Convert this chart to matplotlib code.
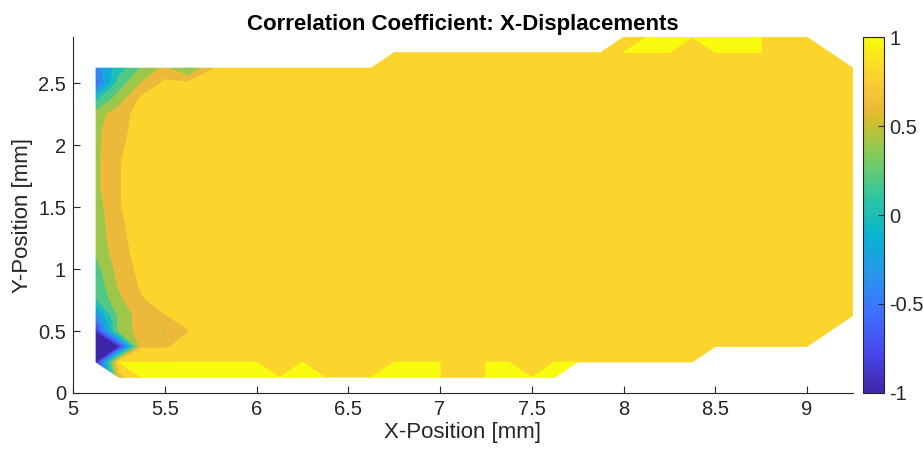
import matplotlib
matplotlib.use("Agg")
import matplotlib.pyplot as plt
import numpy as np
from matplotlib.colors import LinearSegmentedColormap, Normalize
from matplotlib.cm import ScalarMappable
from matplotlib.ticker import FormatStrFormatter

plt.rcParams['font.family'] = ['Liberation Sans', 'DejaVu Sans']

# measurement grid (mm)
x_mm = np.arange(5.125, 9.26, 0.125)   # 34 columns
y_mm = np.arange(0.125, 2.88, 0.125)   # 23 rows

# first / last valid row index for every column
col_bottom = [1] + [0] * 20 + [1] * 6 + [2] * 5 + [3, 4]
col_top = [20] * 13 + [21] * 10 + [22] * 9 + [21, 20]

# correlation values of the left-most columns (row 0 = bottom)
nan = np.nan
edge_cols = [
    [nan, -0.9, -0.95, -0.8, -0.3, 0.18, 0.25, 0.32, 0.42, 0.46, 0.48, 0.5,
     0.55, 0.55, 0.55, 0.55, 0.55, 0.5, 0.15, -0.5, -0.3, nan, nan],
    [0.7, 1.0, -0.82, 0.45, 0.45, 0.55, 0.63, 0.68, 0.72, 0.75, 0.77, 0.79,
     0.79, 0.79, 0.79, 0.77, 0.74, 0.72, 0.5, 0.3, 0.1, nan, nan],
    [1.0, 1.0, 0.78, 0.7, 0.7, 0.78, 0.83, 0.86, 0.88, 0.88, 0.88, 0.88,
     0.88, 0.88, 0.88, 0.88, 0.88, 0.88, 0.85, 0.62, 0.42, nan, nan],
    [1.0, 1.0, 0.78, 0.58, 0.79, 0.88, 0.88, 0.88, 0.9, 0.9, 0.9, 0.9,
     0.9, 0.9, 0.9, 0.9, 0.9, 0.9, 0.88, 0.85, 0.65, nan, nan],
    [1.0, 1.0, 0.87, 0.79, 0.88, 0.9, 0.9, 0.9, 0.9, 0.9, 0.9, 0.9,
     0.9, 0.9, 0.9, 0.9, 0.9, 0.9, 0.9, 0.85, 0.35, nan, nan],
    [1.0, 1.0, 0.9, 0.9, 0.9, 0.9, 0.9, 0.9, 0.9, 0.9, 0.9, 0.9,
     0.9, 0.9, 0.9, 0.9, 0.9, 0.9, 0.9, 0.9, 0.78, nan, nan],
]
interior_r = 0.9

# columns (index) where the coefficient reaches 1 on the outer rows
ones_row0 = [6, 7, 8, 9, 10, 11, 12, 13, 14, 15, 17, 18, 19, 20]
ones_row1 = [6, 7, 9, 13, 14, 15, 17, 18, 20, 21]
ones_row21 = [23, 24, 25, 27, 28, 29]
ones_row22 = [24, 25, 26, 27, 28, 29]

Z = np.full((len(y_mm), len(x_mm)), np.nan)
for i in range(len(x_mm)):
    Z[col_bottom[i]:col_top[i] + 1, i] = interior_r
for i, col in enumerate(edge_cols):
    Z[:, i] = col
for row, cols in [(0, ones_row0), (1, ones_row1), (21, ones_row21), (22, ones_row22)]:
    for i in cols:
        Z[row, i] = 1.0

# parula
parula_pts = [
    (0.0, (0.2422, 0.1504, 0.6603)),
    (1 / 9, (0.2803, 0.2782, 0.9221)),
    (2 / 9, (0.2440, 0.4358, 0.9988)),
    (3 / 9, (0.1540, 0.5902, 0.9218)),
    (4 / 9, (0.0297, 0.7082, 0.8163)),
    (5 / 9, (0.1938, 0.7758, 0.6251)),
    (6 / 9, (0.5044, 0.7993, 0.3480)),
    (7 / 9, (0.8634, 0.7406, 0.1596)),
    (0.8, (0.93, 0.725, 0.227)),
    (8 / 9, (0.9892, 0.8136, 0.1885)),
    (1.0, (0.9763, 0.9831, 0.0538)),
]
parula = LinearSegmentedColormap.from_list('parula', parula_pts)
norm = Normalize(-1, 1)

# matlab colours each band with its lower level
levels = [-1.0, -0.8, -0.6, -0.4, -0.2, 0.0, 0.2, 0.4, 0.6, 0.8, 0.999, 1.001]
band_colors = [parula(norm(l)) for l in [-1.0, -0.8, -0.6, -0.4, -0.2, 0.0, 0.2, 0.4, 0.6, 0.8, 1.0]]

fig = plt.figure(figsize=(9.23, 4.54), dpi=100)
ax = fig.add_axes([0.0791, 0.1344, 0.845, 0.784])
cax = fig.add_axes([0.935, 0.1344, 0.0228, 0.784])

X, Y = np.meshgrid(x_mm, y_mm)
cs = ax.contourf(X, Y, Z, levels=levels, colors=band_colors, antialiased=True)
cs.set_edgecolor('face')
cs.set_linewidth(0.4)

ax.set_xlim(5, 9.25)
ax.set_ylim(0, 2.875)
ax.set_xticks(np.arange(5, 9.01, 0.5))
ax.set_yticks(np.arange(0, 2.51, 0.5))
ax.xaxis.set_major_formatter(FormatStrFormatter('%g'))
ax.yaxis.set_major_formatter(FormatStrFormatter('%g'))
for s in ['top', 'right']:
    ax.spines[s].set_visible(False)
for s in ['left', 'bottom']:
    ax.spines[s].set_color('#262626')
    ax.spines[s].set_linewidth(0.8)
ax.tick_params(direction='in', length=5, width=0.8, color='#262626',
               labelcolor='#262626', labelsize=14.5, pad=5)
ax.set_xlabel('X-Position [mm]', fontsize=16, color='#262626', labelpad=2)
ax.set_ylabel('Y-Position [mm]', fontsize=16, color='#262626', labelpad=4)
ax.set_title('Correlation Coefficient: X-Displacements', fontsize=16,
             fontweight='bold', color='black', pad=5)

cb = fig.colorbar(ScalarMappable(norm=norm, cmap=parula), cax=cax,
                  ticks=[-1, -0.5, 0, 0.5, 1])
cb.ax.yaxis.set_major_formatter(FormatStrFormatter('%g'))
cb.ax.tick_params(direction='in', length=4, width=0.8, color='#262626',
                  labelcolor='#262626', labelsize=14.5, pad=4)
cb.outline.set_edgecolor('#262626')
cb.outline.set_linewidth(0.8)

fig.savefig('out.png', dpi=100)
